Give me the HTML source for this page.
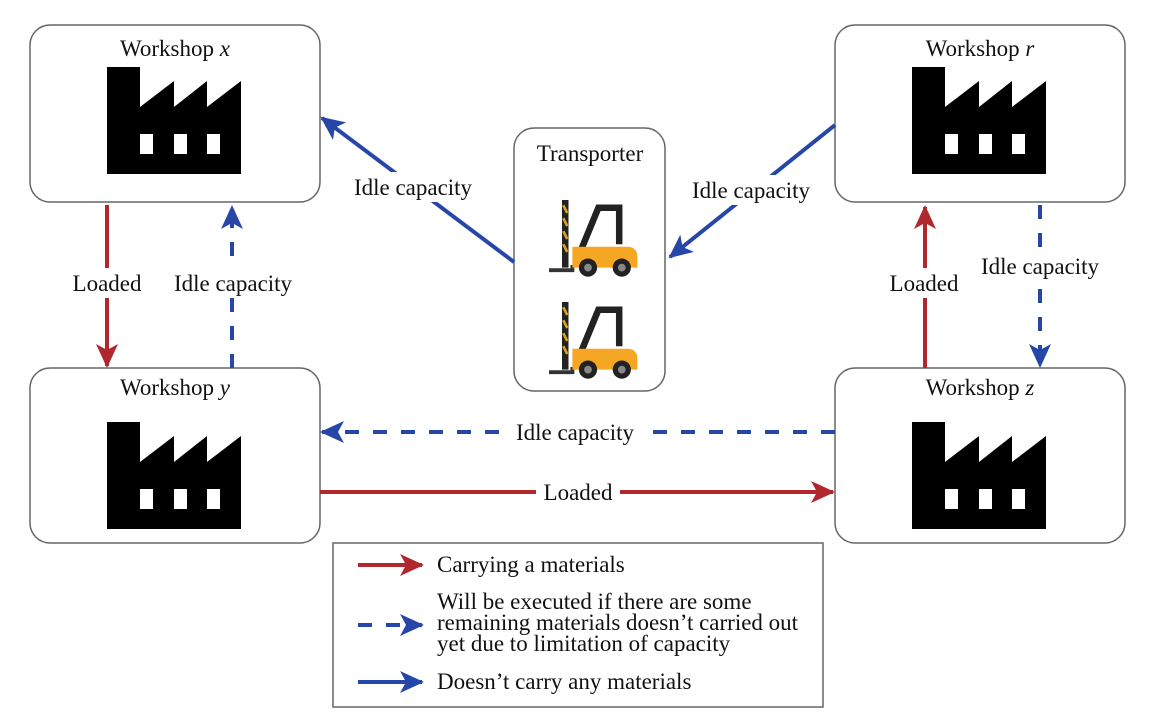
<!DOCTYPE html>
<html><head><meta charset="utf-8"><style>
body{margin:0;background:#fff;}
svg text{font-family:"Liberation Serif","Times New Roman",serif;font-size:23px;fill:#111;}
</style></head><body>
<svg width="1156" height="722" viewBox="0 0 1156 722" xmlns="http://www.w3.org/2000/svg" font-family="Liberation Serif, serif">
<defs>
<marker id="ar" markerWidth="24" markerHeight="22" refX="22" refY="11" orient="auto" markerUnits="userSpaceOnUse" viewBox="0 0 24 22"><path d="M0,0 L24,11 L0,22 L6,11 Z" fill="#b0282d"/></marker>
<marker id="ab" markerWidth="24" markerHeight="22" refX="22" refY="11" orient="auto" markerUnits="userSpaceOnUse" viewBox="0 0 24 22"><path d="M0,0 L24,11 L0,22 L6,11 Z" fill="#2646a8"/></marker>
<g id="fac"><path d="M0,0 H33 V40 L67,14 V40 L100,14 V40 L134,14 V107 H0 Z" fill="#000"/><rect x="33" y="67" width="13" height="20" fill="#fff"/><rect x="67" y="67" width="13" height="20" fill="#fff"/><rect x="100" y="67" width="13" height="20" fill="#fff"/></g>
<g id="fork">
<rect x="0" y="0" width="5" height="52" fill="#222"/><path d="M1,4 l3,6 M1,14 l3,6 M1,24 l3,6 M1,34 l3,6" stroke="#e0a020" stroke-width="2"/>
<path d="M-10,54 H8 V50" stroke="#333" stroke-width="3" fill="none"/>
<path d="M14,40 L28,6 H44 V34" stroke="#222" stroke-width="5" fill="none"/>
<path d="M8,36 H50 Q58,36 58,44 V52 H8 Z" fill="#f5a623"/>
<circle cx="20" cy="52" r="7" fill="#222"/><circle cx="20" cy="52" r="3" fill="#888"/>
<circle cx="46" cy="52" r="7" fill="#222"/><circle cx="46" cy="52" r="3" fill="#888"/>
</g>
</defs>
<g fill="#fff" stroke="#666" stroke-width="1.5">
<rect x="30" y="25" width="290" height="177" rx="20"/>
<rect x="835" y="25" width="290" height="177" rx="20"/>
<rect x="30" y="368" width="290" height="175" rx="20"/>
<rect x="835" y="368" width="290" height="175" rx="20"/>
<rect x="514" y="128" width="151" height="263" rx="20"/>
<rect x="333" y="543" width="490" height="164" rx="0"/>
</g>
<use href="#fac" x="107" y="67"/>
<use href="#fac" x="912" y="67"/>
<use href="#fac" x="107" y="422"/>
<use href="#fac" x="912" y="422"/>
<g transform="translate(562,200) scale(1.3)"><use href="#fork"/></g>
<g transform="translate(562,302) scale(1.3)"><use href="#fork"/></g>
<text x="175" y="56" text-anchor="middle">Workshop <tspan font-style="italic">x</tspan></text>
<text x="980" y="56" text-anchor="middle">Workshop <tspan font-style="italic">r</tspan></text>
<text x="175" y="395" text-anchor="middle">Workshop <tspan font-style="italic">y</tspan></text>
<text x="980" y="395" text-anchor="middle">Workshop <tspan font-style="italic">z</tspan></text>
<text x="590" y="161" text-anchor="middle">Transporter</text>
<g stroke-width="4" fill="none">
<line x1="107" y1="205" x2="107" y2="366" stroke="#b0282d" marker-end="url(#ar)"/>
<line x1="232" y1="368" x2="232" y2="207" stroke="#2646a8" stroke-dasharray="14 14" marker-end="url(#ab)"/>
<line x1="514" y1="262" x2="322" y2="118" stroke="#2646a8" marker-end="url(#ab)"/>
<line x1="835" y1="125" x2="670" y2="257" stroke="#2646a8" marker-end="url(#ab)"/>
<line x1="1040" y1="205" x2="1040" y2="366" stroke="#2646a8" stroke-dasharray="14 14" marker-end="url(#ab)"/>
<line x1="925" y1="368" x2="925" y2="207" stroke="#b0282d" marker-end="url(#ar)"/>
<line x1="835" y1="432" x2="322" y2="432" stroke="#2646a8" stroke-dasharray="14 14" marker-end="url(#ab)"/>
<line x1="320" y1="492" x2="833" y2="492" stroke="#b0282d" marker-end="url(#ar)"/>
<line x1="358" y1="565" x2="422" y2="565" stroke="#b0282d" marker-end="url(#ar)"/>
<line x1="358" y1="625" x2="422" y2="625" stroke="#2646a8" stroke-dasharray="14 14" marker-end="url(#ab)"/>
<line x1="358" y1="682" x2="422" y2="682" stroke="#2646a8" marker-end="url(#ab)"/>
</g>
<g>
<rect x="65" y="268" width="84" height="30" fill="#fff"/>
<rect x="165" y="268" width="136" height="30" fill="#fff"/>
<rect x="345" y="172" width="136" height="30" fill="#fff"/>
<rect x="683" y="175" width="136" height="30" fill="#fff"/>
<rect x="882" y="268" width="84" height="30" fill="#fff"/>
<rect x="972" y="251" width="136" height="30" fill="#fff"/>
<rect x="510" y="417" width="130" height="30" fill="#fff"/>
<rect x="536" y="477" width="84" height="30" fill="#fff"/>
</g>
<text x="107" y="291" text-anchor="middle">Loaded</text>
<text x="233" y="291" text-anchor="middle">Idle capacity</text>
<text x="413" y="195" text-anchor="middle">Idle capacity</text>
<text x="751" y="198" text-anchor="middle">Idle capacity</text>
<text x="924" y="291" text-anchor="middle">Loaded</text>
<text x="1040" y="274" text-anchor="middle">Idle capacity</text>
<text x="575" y="440" text-anchor="middle">Idle capacity</text>
<text x="578" y="500" text-anchor="middle">Loaded</text>
<text x="437" y="572">Carrying a materials</text>
<text x="437" y="609">Will be executed if there are some</text>
<text x="437" y="630">remaining materials doesn’t carried out</text>
<text x="437" y="651">yet due to limitation of capacity</text>
<text x="437" y="689">Doesn’t carry any materials</text>
</svg>
</body></html>
